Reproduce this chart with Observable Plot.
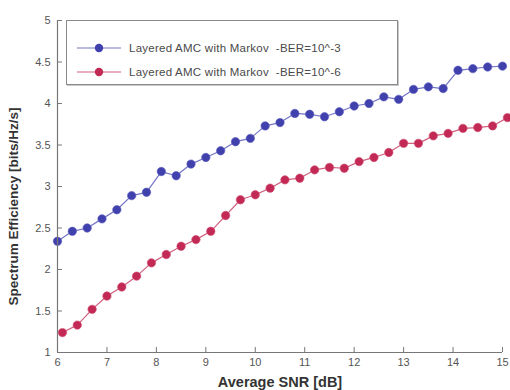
<!DOCTYPE html>
<html>
<head>
<meta charset="utf-8">
<script src="https://cdn.jsdelivr.net/npm/d3@7"></script>
<script src="https://cdn.jsdelivr.net/npm/@observablehq/plot@0.6"></script>
<style>
  html, body { margin: 0; padding: 0; background: #fff; }
  #wrap { position: relative; width: 510px; height: 390px; overflow: hidden; font-family: "Liberation Sans", Arial, sans-serif; }
  #legend { position: absolute; left: 66px; top: 20px; width: 330px; height: 63px; border: 1px solid #8a8a8a; background: #fff; box-shadow: 1px 1px 0 #c8c8c8; }
  .row { position: absolute; left: 0; height: 14px; display: flex; align-items: center; font-size: 11.5px; letter-spacing: 0.25px; color: #4a4a4a; white-space: pre; }
  .row svg { margin-left: 9px; margin-right: 7px; }
</style>
</head>
<body>
<div id="wrap"></div>
<script>
// ---- data ----
const snrBlue = [6.0,6.3,6.6,6.9,7.2,7.5,7.8,8.1,8.4,8.7,9.0,9.3,9.6,9.9,10.2,10.5,10.8,11.1,11.4,11.7,12.0,12.3,12.6,12.9,13.2,13.5,13.8,14.1,14.4,14.7,15.0];
const seBlue  = [2.34,2.46,2.50,2.61,2.72,2.89,2.93,3.18,3.13,3.27,3.35,3.43,3.54,3.58,3.73,3.77,3.88,3.87,3.84,3.90,3.97,4.00,4.08,4.05,4.17,4.20,4.18,4.40,4.42,4.44,4.45];
const snrRed  = [6.1,6.4,6.7,7.0,7.3,7.6,7.9,8.2,8.5,8.8,9.1,9.4,9.7,10.0,10.3,10.6,10.9,11.2,11.5,11.8,12.1,12.4,12.7,13.0,13.3,13.6,13.9,14.2,14.5,14.8,15.1];
const seRed   = [1.24,1.33,1.52,1.68,1.79,1.92,2.08,2.18,2.28,2.36,2.46,2.65,2.84,2.90,2.98,3.08,3.10,3.20,3.23,3.22,3.30,3.35,3.41,3.52,3.52,3.61,3.64,3.70,3.71,3.73,3.83];
const seriesNames = ["Layered AMC with Markov  -BER=10^-3", "Layered AMC with Markov  -BER=10^-6"];
const seriesColors = ["#4141ad", "#c22a55"];
const lineColors = ["#7474c6", "#d0607f"];
const xTicks = [6,7,8,9,10,11,12,13,14,15];
const yTicks = [1,1.5,2,2.5,3,3.5,4,4.5,5];
const xLabel = "Average SNR [dB]";
const yLabel = "Spectrum Efficiency [bits/Hz/s]";

const blue = snrBlue.map((x, i) => ({x, y: seBlue[i]}));
const red = snrRed.map((x, i) => ({x, y: seRed[i]}));

const chart = Plot.plot({
  width: 510,
  height: 390,
  marginLeft: 57,
  marginRight: 8,
  marginTop: 20,
  marginBottom: 38,
  style: {fontFamily: "Liberation Sans, Arial, sans-serif", fontSize: "11px", color: "#555", background: "#fff", overflow: "visible"},
  x: {domain: [6, 15], ticks: xTicks, tickFormat: d => String(d)},
  y: {domain: [1, 5], ticks: yTicks, tickFormat: d => String(d)},
  marks: [
    Plot.axisX({ticks: xTicks, tickSize: 0, tickPadding: 6, label: null, tickFormat: d => String(d)}),
    Plot.axisY({ticks: yTicks, tickSize: 0, tickPadding: 7, label: null, tickFormat: d => String(d)}),
    Plot.ruleX(xTicks, {x: d => d, y1: 1, y2: 1.06, stroke: "#777"}),
    Plot.ruleY(yTicks, {y: d => d, x1: 6, x2: 6.1, stroke: "#777"}),
    Plot.line(blue, {x: "x", y: "y", stroke: lineColors[0], strokeWidth: 1.2}),
    Plot.dot(blue, {x: "x", y: "y", r: 4.2, fill: seriesColors[0], stroke: "#5a5ac0", strokeWidth: 0.6}),
    Plot.line(red, {x: "x", y: "y", stroke: lineColors[1], strokeWidth: 1.2}),
    Plot.dot(red, {x: "x", y: "y", r: 4.2, fill: seriesColors[1], stroke: "#d04a70", strokeWidth: 0.6}),
    Plot.ruleX([6], {stroke: "#777", strokeWidth: 1.2}),
    Plot.ruleY([1], {stroke: "#777", strokeWidth: 1.2}),
    Plot.text([xLabel], {frameAnchor: "bottom", textAnchor: "middle", dy: 34, fontWeight: "bold", fontSize: 14.5, fill: "#333"}),
    Plot.text([yLabel], {frameAnchor: "left", textAnchor: "middle", dx: -44, dy: 20, rotate: -90, fontWeight: "bold", fontSize: 13.5, fill: "#333"})
  ]
});

const wrap = document.getElementById("wrap");
wrap.appendChild(chart);

// legend
const legend = document.createElement("div");
legend.id = "legend";
seriesNames.forEach((name, i) => {
  const row = document.createElement("div");
  row.className = "row";
  row.style.top = (i === 0 ? 20 : 44) + "px";
  row.innerHTML = `<svg width="46" height="12"><line x1="1" x2="45" y1="6" y2="6" stroke="${lineColors[i]}" stroke-width="1.2"/><circle cx="23" cy="6" r="4.2" fill="${seriesColors[i]}"/></svg><span>${name}</span>`;
  legend.appendChild(row);
});
wrap.appendChild(legend);
</script>
</body>
</html>
